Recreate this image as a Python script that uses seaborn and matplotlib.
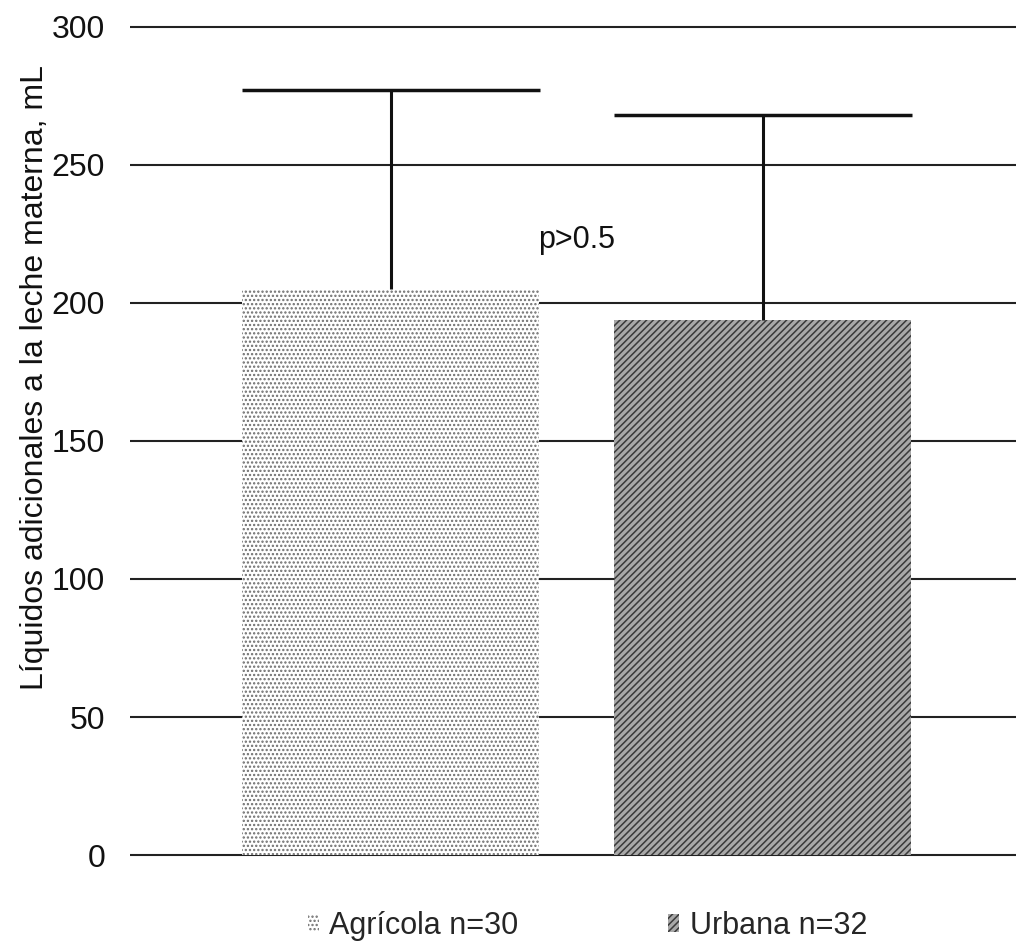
import matplotlib
matplotlib.use("Agg")
import matplotlib.pyplot as plt
from matplotlib.patches import Patch
import seaborn as sns
import pandas as pd

# ---- data ----
groups = ["Agrícola", "Urbana"]
legend_labels = ["Agrícola n=30", "Urbana n=32"]
means = [205, 194]
sd_upper = [72, 74]
yticks = [0, 50, 100, 150, 200, 250, 300]
p_text = "p>0.5"
ylabel = "Líquidos adicionales a la leche materna, mL"

sns.set_theme(style="white")
plt.rcParams["font.family"] = ["Liberation Sans", "DejaVu Sans"]
plt.rcParams["hatch.linewidth"] = 1.1

df = pd.DataFrame({"grupo": groups, "valor": means})

fig = plt.figure(figsize=(10.16, 9.44), dpi=100)
ax = fig.add_axes([0.128, 0.0855, 0.879, 0.8947])

face = ["#ffffff", "#a8a8a8"]
sns.barplot(data=df, x="grupo", y="valor", hue="grupo", palette=face,
            width=0.8, legend=False, ax=ax, edgecolor="none", linewidth=0,
            zorder=2)

hatches = ["....", "/////"]
hcols = ["#6e6e6e", "#3a3a3a"]
for patch, h, hc in zip(ax.patches, hatches, hcols):
    patch.set_hatch(h)
    patch.set_edgecolor(hc)
    patch.set_linewidth(0)

# upward-only error bars with wide caps (no cap at the bar top)
for i, (m, e) in enumerate(zip(means, sd_upper)):
    _, caps, _ = ax.errorbar(i, m, yerr=[[0], [e]], fmt="none", ecolor="#111111",
                             elinewidth=2.2, capsize=107, capthick=2.5, zorder=3)
    if len(caps) == 2:
        caps[0].set_visible(False)

ax.text(0.5, 223, p_text, ha="center", va="center", fontsize=22, color="#111111")

ax.set_xlim(-0.70, 1.70)
ax.set_ylim(-3, 303)
ax.set_yticks(yticks)
ax.set_xticks([])
ax.set_xlabel("")
ax.set_ylabel(ylabel, fontsize=23, color="#111111")
ax.yaxis.set_label_coords(-0.090, 0.575)
ax.tick_params(axis="y", length=0, pad=18, labelsize=23, labelcolor="#111111")
for s in ax.spines.values():
    s.set_visible(False)
ax.yaxis.grid(True, color="#222222", linewidth=1.5)
ax.set_axisbelow(True)

handles = [Patch(facecolor=f, edgecolor=hc, hatch=h, linewidth=0)
           for f, hc, h in zip(face, hcols, hatches)]
fig.legend(handles, legend_labels, loc="center left", bbox_to_anchor=(0.288, 0.019),
           ncol=2, frameon=False, fontsize=22, handlelength=0.35, borderpad=0,
           handleheight=0.55, handletextpad=0.35, columnspacing=4.9)

fig.savefig("out.png", dpi=100, facecolor="white")
